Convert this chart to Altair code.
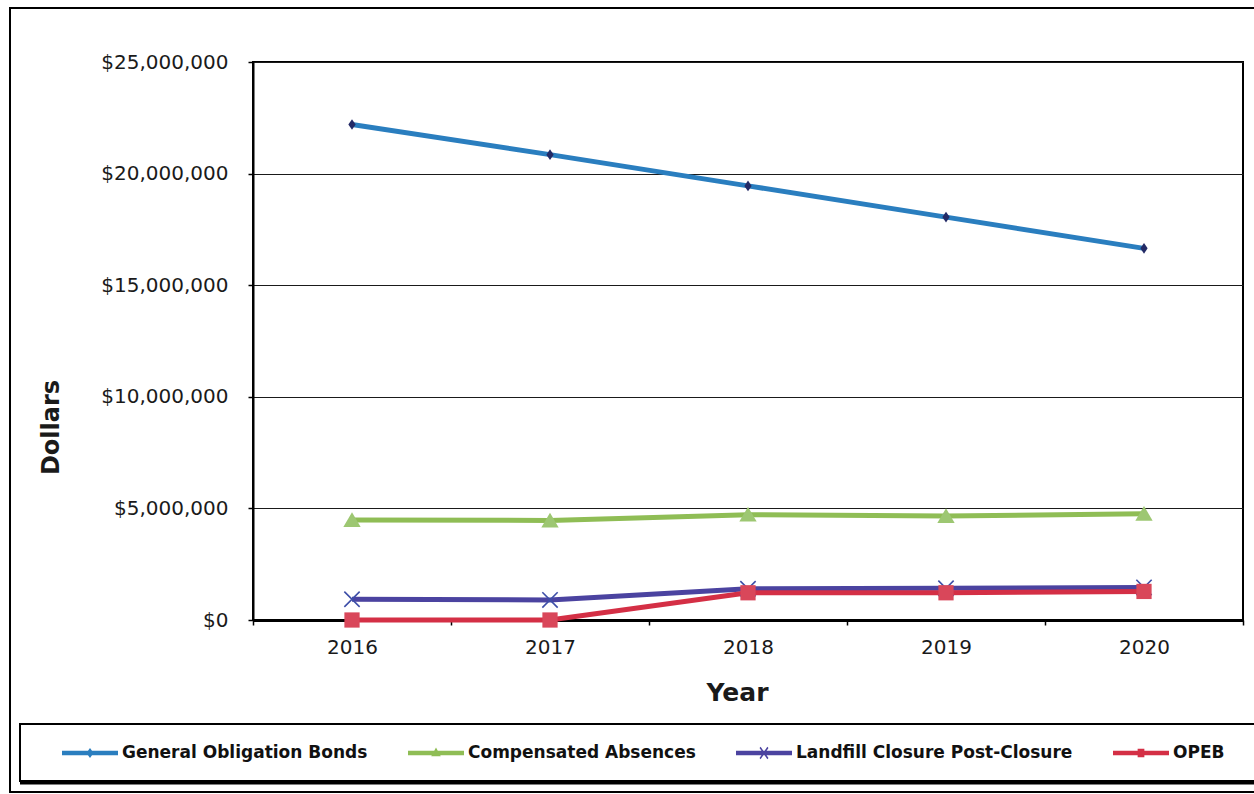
import altair as alt
import pandas as pd

# ---- data -------------------------------------------------------------
years = ["2016", "2017", "2018", "2019", "2020"]
series = [
    "General Obligation Bonds",
    "Compensated Absences",
    "Landfill Closure Post-Closure",
    "OPEB",
]
general_obligation_bonds = [22200000, 20850000, 19450000, 18050000, 16650000]
compensated_absences = [4480000, 4460000, 4720000, 4660000, 4760000]
landfill_closure = [930000, 900000, 1400000, 1420000, 1460000]
opeb = [0, 0, 1220000, 1220000, 1280000]
y_ticks = [0, 5000000, 10000000, 15000000, 20000000, 25000000]

# ---- styles -----------------------------------------------------------
line_colors = ["#2A7EBF", "#8FBD55", "#4B43A0", "#D42F45"]
marker_colors = ["#232A66", "#9DC772", "#3D4EA8", "#D9475A"]

# marker outlines for the plotted points (unit box scaled by sqrt(size)/2)
marker_paths = [
    "M0,-0.62L0.42,0L0,0.62L-0.42,0Z",
    "M0,-0.9L1,0.8L-1,0.8Z",
    "M-0.95,-0.82L-0.82,-0.95L0.95,0.82L0.82,0.95Z"
    "M0.82,-0.95L0.95,-0.82L-0.82,0.95L-0.95,0.82Z",
    "M-0.88,-0.88H0.88V0.88H-0.88Z",
]

# legend keys: a short line segment with a small marker on it
key_line = "M-1,-0.08H1V0.08H-1Z"
legend_paths = [
    key_line + "M0,-0.18L0.13,0L0,0.18L-0.13,0Z",
    key_line + "M0,-0.2L0.17,0.12L-0.17,0.12Z",
    key_line + "M-0.16,-0.18L-0.12,-0.22L0.16,0.18L0.12,0.22Z"
    "M0.12,-0.22L0.16,-0.18L-0.12,0.22L-0.16,0.18Z",
    key_line + "M-0.12,-0.15H0.12V0.15H-0.12Z",
]

values = general_obligation_bonds + compensated_absences + landfill_closure + opeb
df = pd.DataFrame(
    {
        "year": years * len(series),
        "series": [s for s in series for _ in years],
        "value": values,
    }
)

FONT = "DejaVu Sans"

x_enc = alt.X(
    "year:O",
    bandPosition=0.5,
    scale=alt.Scale(type="band", paddingInner=0, paddingOuter=0),
    axis=alt.Axis(
        title="Year",
        labelAngle=0,
        tickBand="extent",
        tickSize=5,
        tickWidth=1.5,
        tickColor="black",
        domainColor="black",
        domainWidth=3,
        grid=False,
        labelFont=FONT,
        labelFontSize=20,
        labelColor="#1a1a1a",
        labelPadding=12,
        titleFont=FONT,
        titleFontSize=25,
        titleFontWeight="bold",
        titleColor="#1a1a1a",
        titleBaseline="alphabetic",
        titleX=484,
        titleY=80,
    ),
)

y_enc = alt.Y(
    "value:Q",
    scale=alt.Scale(domain=[0, 25000000], nice=False),
    axis=alt.Axis(
        title="Dollars",
        values=y_ticks,
        format="$,.0f",
        tickSize=5,
        tickWidth=1.5,
        tickColor="black",
        domainColor="black",
        domainWidth=2,
        grid=True,
        gridColor="#1a1a1a",
        gridWidth=1,
        labelFont=FONT,
        labelFontSize=20,
        labelColor="#1a1a1a",
        labelPadding=20,
        titleFont=FONT,
        titleFontSize=24,
        titleFontWeight="bold",
        titleColor="#1a1a1a",
        titleBaseline="alphabetic",
        titleX=-195,
        titleY=365,
    ),
)

one_row = pd.DataFrame({"k": [0]})

# outer frame around the whole chart
frame = alt.Chart(one_row).mark_rect(
    fill="white", fillOpacity=0, stroke="black", strokeWidth=2
).encode(
    x=alt.value(-243), x2=alt.value(1011), y=alt.value(-54), y2=alt.value(730)
)

# legend box with a heavier bottom edge
legend_box = alt.Chart(one_row).mark_rect(
    fill="white", fillOpacity=0, stroke="black", strokeWidth=2
).encode(
    x=alt.value(-233), x2=alt.value(1011), y=alt.value(662), y2=alt.value(719)
)
legend_shadow = alt.Chart(one_row).mark_rule(color="black", strokeWidth=3).encode(
    x=alt.value(-233), x2=alt.value(1011), y=alt.value(721)
)

lines = alt.Chart(df).mark_line(strokeWidth=5).encode(
    x=x_enc,
    y=y_enc,
    color=alt.Color(
        "series:N", scale=alt.Scale(domain=series, range=line_colors), legend=None
    ),
)

points = alt.Chart(df).mark_point(filled=True, size=300, opacity=1, strokeWidth=0).encode(
    x=x_enc,
    y=y_enc,
    fill=alt.Fill(
        "series:N", scale=alt.Scale(domain=series, range=marker_colors), legend=None
    ),
    shape=alt.Shape(
        "series:N", scale=alt.Scale(domain=series, range=marker_paths), legend=None
    ),
)

# draws nothing itself; carries the legend with line-and-marker keys
legend_layer = (
    alt.Chart(df)
    .transform_filter("false")
    .mark_point(filled=True, opacity=1, strokeWidth=0)
    .encode(
        x=x_enc,
        y=y_enc,
        fill=alt.Fill(
            "series:N",
            scale=alt.Scale(domain=series, range=line_colors),
            legend=alt.Legend(title=None),
        ),
        shape=alt.Shape(
            "series:N",
            scale=alt.Scale(domain=series, range=legend_paths),
            legend=alt.Legend(title=None),
        ),
    )
)

chart = (
    alt.layer(frame, legend_box, legend_shadow, lines, points, legend_layer)
    .resolve_scale(fill="independent", shape="independent")
    .properties(
        width=990,
        height=558,
        autosize=alt.AutoSizeParams(type="none"),
        padding={"left": 253, "top": 62, "right": 11, "bottom": 174},
        background="white",
    )
    .configure_view(stroke="black", strokeWidth=2)
    .configure_legend(
        orient="none",
        legendX=-191,
        legendY=663,
        direction="horizontal",
        columns=4,
        symbolSize=3136,
        symbolStrokeWidth=0,
        symbolOpacity=1,
        labelFont=FONT,
        labelFontSize=17,
        labelFontWeight="bold",
        labelColor="#111111",
        labelOffset=4,
        labelLimit=400,
        columnPadding=40,
        padding=0,
    )
)

chart.save("out.html", embed_options={"renderer": "svg", "actions": False})
